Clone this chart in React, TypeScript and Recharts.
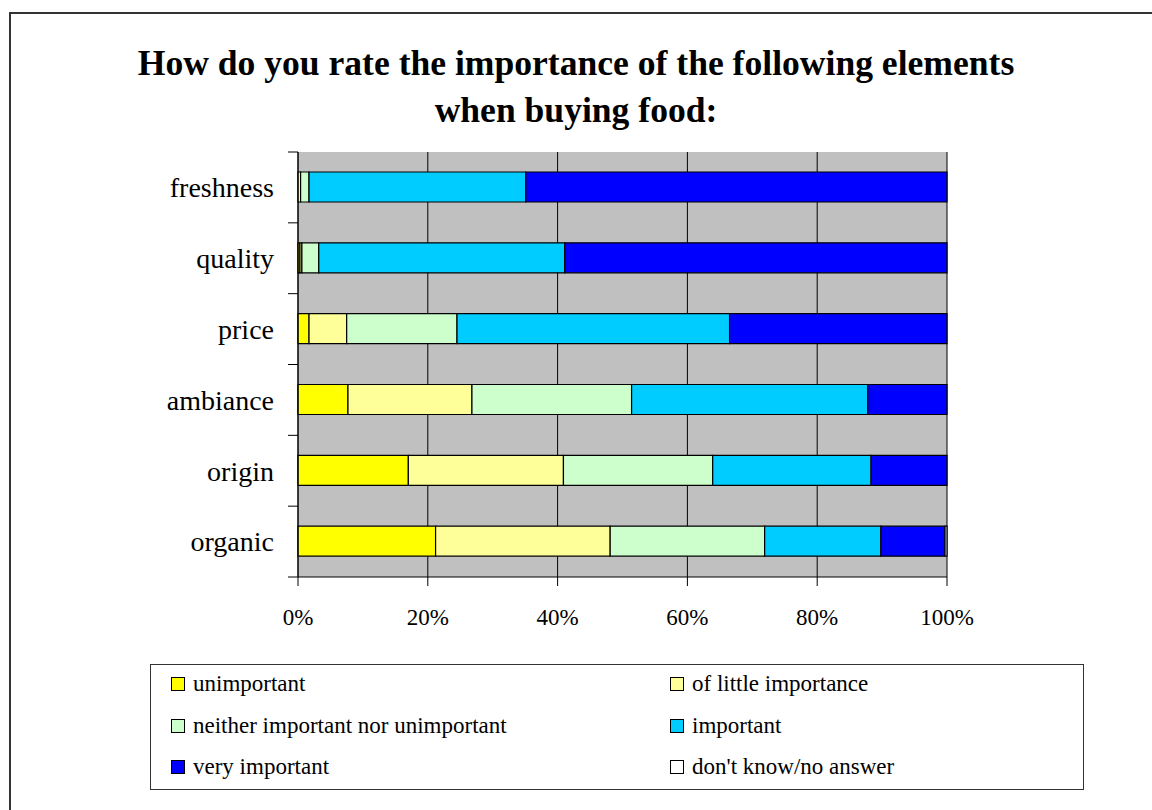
import { FC } from "react";
import {
  Bar,
  BarChart,
  CartesianGrid,
  XAxis,
  YAxis,
} from "recharts";

const categories = ["freshness", "quality", "price", "ambiance", "origin", "organic"];

const unimportant = [0, 0.3, 1.7, 7.7, 17.0, 21.2];
const littleImportance = [0.4, 0.3, 5.8, 19.1, 23.9, 26.9];
const neither = [1.3, 2.6, 17.0, 24.6, 23.0, 23.8];
const important = [33.4, 37.9, 42.0, 36.4, 24.4, 17.9];
const veryImportant = [64.9, 58.9, 33.5, 12.2, 11.7, 9.9];
const dontKnow = [0, 0, 0, 0, 0, 0.3];

const xTicks = [0, 0.2, 0.4, 0.6, 0.8, 1];

const series = [
  { key: "unimportant", name: "unimportant", color: "#FFFF00", values: unimportant },
  { key: "little", name: "of little importance", color: "#FFFF99", values: littleImportance },
  { key: "neither", name: "neither important nor unimportant", color: "#CCFFCC", values: neither },
  { key: "important", name: "important", color: "#00CCFF", values: important },
  { key: "very", name: "very important", color: "#0000FF", values: veryImportant },
  { key: "dk", name: "don't know/no answer", color: "#FFFFFF", values: dontKnow },
];

const data = categories.map((name, i) => {
  const row: Record<string, string | number> = { name };
  series.forEach((s) => {
    row[s.key] = s.values[i];
  });
  return row;
});

const FONT = "'Liberation Serif', 'Times New Roman', serif";
const PLOT_LEFT = 298;
const PLOT_TOP = 152;
const PLOT_BOTTOM = 577;
const BAND = (PLOT_BOTTOM - PLOT_TOP) / categories.length;

const CategoryTick: FC<any> = ({ y, payload, index }) => (
  <g>
    <line x1={PLOT_LEFT - 10} x2={PLOT_LEFT} y1={y - BAND / 2} y2={y - BAND / 2} stroke="#000" />
    {index === categories.length - 1 && (
      <line x1={PLOT_LEFT - 10} x2={PLOT_LEFT} y1={y + BAND / 2} y2={y + BAND / 2} stroke="#000" />
    )}
    <text
      x={PLOT_LEFT - 24}
      y={y}
      dy="0.35em"
      textAnchor="end"
      fontFamily={FONT}
      fontSize={28}
      fill="#000"
    >
      {payload.value}
    </text>
  </g>
);

const LegendBox: FC = () => (
  <div
    style={{
      position: "absolute",
      left: 150,
      top: 664,
      width: 934,
      height: 126,
      border: "1px solid #333",
      boxSizing: "border-box",
      fontFamily: FONT,
      fontSize: 23,
    }}
  >
    {series.map((s, i) => {
      const col = i % 2;
      const row = Math.floor(i / 2);
      return (
        <div
          key={s.key}
          style={{
            position: "absolute",
            left: col === 0 ? 20 : 519,
            top: 19 + row * 41.5 - 15,
            height: 30,
            display: "flex",
            alignItems: "center",
            whiteSpace: "nowrap",
          }}
        >
          <span
            style={{
              display: "inline-block",
              width: 14,
              height: 14,
              background: s.color,
              border: "1.5px solid #000",
              boxSizing: "border-box",
              marginRight: 8,
            }}
          />
          <span>{s.name}</span>
        </div>
      );
    })}
  </div>
);

export default function App() {
  return (
    <div
      style={{
        position: "absolute",
        left: 0,
        top: 0,
        width: 1152,
        height: 810,
        overflow: "hidden",
        background: "#fff",
      }}
    >
      <div
        style={{
          position: "absolute",
          left: 9,
          top: 12,
          width: 1300,
          height: 1000,
          borderLeft: "2px solid #333",
          borderTop: "2px solid #333",
        }}
      />
      <div
        style={{
          position: "absolute",
          left: 0,
          top: 40,
          width: 1152,
          textAlign: "center",
          fontFamily: FONT,
          fontWeight: "bold",
          fontSize: 35.6,
          lineHeight: "47px",
        }}
      >
        How do you rate the importance of the following elements
        <br />
        when buying food:
      </div>
      <div style={{ position: "absolute", left: 0, top: 0 }}>
        <BarChart
          width={1152}
          height={650}
          data={data}
          layout="vertical"
          stackOffset="expand"
          margin={{ top: PLOT_TOP, left: PLOT_LEFT - 120, right: 1152 - 947, bottom: 650 - PLOT_BOTTOM - 40 }}
        >
          <CartesianGrid fill="#C0C0C0" stroke="#000" horizontal={false} />
          <XAxis
            type="number"
            domain={[0, 1]}
            ticks={xTicks}
            tickFormatter={(v: number) => `${Math.round(v * 100)}%`}
            height={40}
            stroke="#000"
            tickSize={9}
            tickMargin={23}
            tick={{ fontFamily: FONT, fontSize: 23, fill: "#000" }}
          />
          <YAxis
            type="category"
            dataKey="name"
            width={120}
            stroke="#000"
            tickLine={false}
            tick={<CategoryTick />}
          />
          {series.map((s) => (
            <Bar
              key={s.key}
              dataKey={s.key}
              name={s.name}
              stackId="a"
              fill={s.color}
              stroke="#000"
              strokeWidth={1.2}
              barSize={30}
              isAnimationActive={false}
            />
          ))}
        </BarChart>
      </div>
      <LegendBox />
    </div>
  );
}
